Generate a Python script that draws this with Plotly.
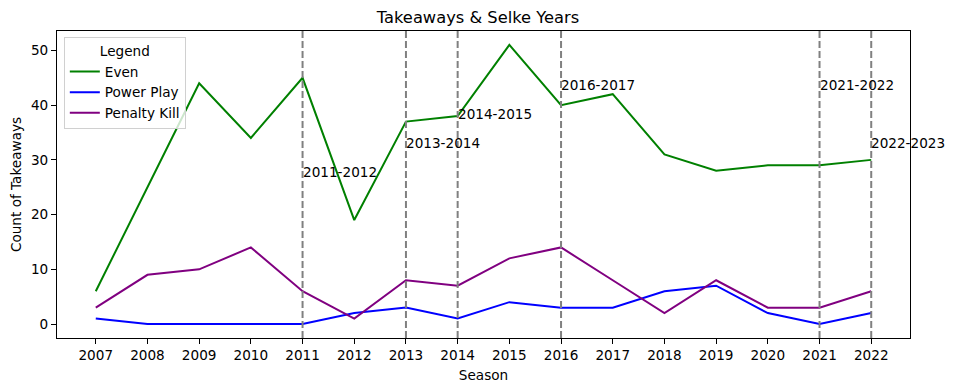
import plotly.graph_objects as go

years = list(range(2007, 2023))
even = [6, 25, 44, 34, 45, 19, 37, 38, 51, 40, 42, 31, 28, 29, 29, 30]
power_play = [1, 0, 0, 0, 0, 2, 3, 1, 4, 3, 3, 6, 7, 2, 0, 2]
penalty_kill = [3, 9, 10, 14, 6, 1, 8, 7, 12, 14, 8, 2, 8, 3, 3, 6]

selke_years = [2011, 2013, 2014, 2016, 2021, 2022]
selke_labels = ["2011-2012", "2013-2014", "2014-2015", "2016-2017", "2021-2022", "2022-2023"]
label_y = [26.6, 31.9, 37.2, 42.6, 42.6, 31.9]

FONT = "DejaVu Sans"
fs = 13.6

# page body has an 8px margin, so the figure is drawn at (8, 8)
W, H = 948, 383

fig = go.Figure()
for name, vals, col in [("Even", even, "#008000"),
                        ("Power Play", power_play, "#0000ff"),
                        ("Penalty Kill", penalty_kill, "#800080")]:
    fig.add_trace(go.Scatter(x=years, y=vals, mode="lines", name=name,
                             line=dict(color=col, width=2)))

for yr, lab, ly in zip(selke_years, selke_labels, label_y):
    fig.add_vline(x=yr, line=dict(color="#808080", width=2, dash="7px,3px"), layer="above")
    fig.add_annotation(x=yr, y=ly, text=lab, showarrow=False, xanchor="left",
                       yanchor="bottom", xshift=-2, yshift=-4,
                       font=dict(family=FONT, size=fs, color="black"))

axis_common = dict(showline=True, mirror=True, linecolor="black", linewidth=1.1,
                   ticks="outside", ticklen=5, tickwidth=1.1, tickcolor="black",
                   showgrid=False, zeroline=False,
                   tickfont=dict(family=FONT, size=fs, color="black"))

fig.update_layout(
    width=W, height=H,
    margin=dict(l=49, r=46, t=23, b=53, autoexpand=False),
    paper_bgcolor="white", plot_bgcolor="white",
    font=dict(family=FONT, size=fs, color="black"),
    title=dict(text="Takeaways & Selke Years", x=(478 - 8) / W, xanchor="center",
               y=1 - 9 / H, yanchor="middle",
               font=dict(family=FONT, size=16.3, color="black")),
    xaxis=dict(range=[2006.25, 2022.75], tickvals=years,
               title=dict(text="Season", standoff=8, font=dict(family=FONT, size=fs)),
               **axis_common),
    yaxis=dict(range=[-2.55, 53.55], tickvals=[0, 10, 20, 30, 40, 50],
               title=dict(text="Count of Takeaways", standoff=6, font=dict(family=FONT, size=fs)),
               **axis_common),
    legend=dict(x=0.008, y=0.979, xanchor="left", yanchor="top",
                bgcolor="rgba(255,255,255,0.8)", bordercolor="#d0d0d0", borderwidth=1,
                title=dict(text="Legend", side="top center", font=dict(family=FONT, size=fs)),
                font=dict(family=FONT, size=fs), tracegroupgap=0),
    showlegend=True,
)

fig.write_html("out.html")
